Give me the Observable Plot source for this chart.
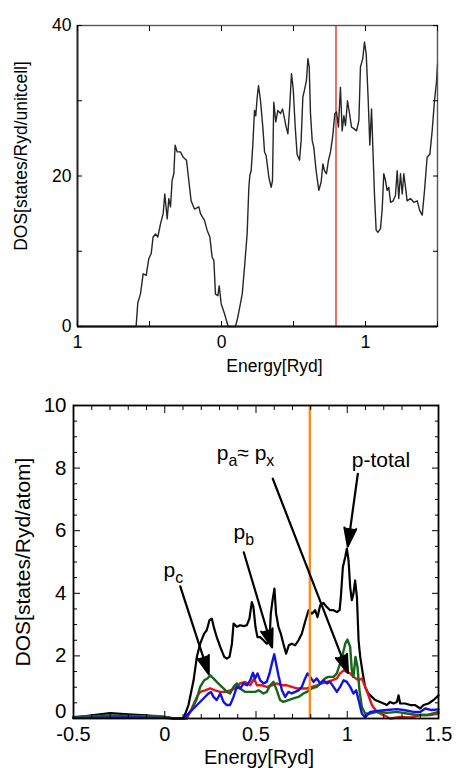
<!DOCTYPE html>
<html>
<head>
<meta charset="utf-8">
<script src="https://cdn.jsdelivr.net/npm/d3@7"></script>
<script src="https://cdn.jsdelivr.net/npm/@observablehq/plot@0.6"></script>
<style>
  html, body { margin: 0; padding: 0; background: #fff; }
  #top, #bottom { width: 457px; }
  svg { display: block; }
</style>
</head>
<body>
<div id="top"></div>
<div id="bottom"></div>
<script>
// ---------- data ----------
const fermiEnergy = 0.795;

// Top panel: total DOS [states/Ryd/unitcell]
const topEnergy = [-1, -0.593, -0.581, -0.563, -0.544, -0.523, -0.505, -0.488, -0.475, -0.458,
  -0.442, -0.424, -0.405, -0.394, -0.377, -0.366, -0.354, -0.343, -0.331, -0.322,
  -0.308, -0.285, -0.266, -0.243, -0.227, -0.211, -0.188, -0.157, -0.146, -0.118,
  -0.1, -0.081, -0.065, -0.053, -0.042, -0.025, -0.016, -0.002, 0.021, 0.046,
  0.097, 0.113, 0.144, 0.16, 0.178, 0.19, 0.197, 0.206, 0.218, 0.229,
  0.238, 0.248, 0.257, 0.271, 0.287, 0.299, 0.31, 0.329, 0.345, 0.354,
  0.363, 0.377, 0.391, 0.41, 0.424, 0.438, 0.447, 0.461, 0.475, 0.486,
  0.498, 0.512, 0.525, 0.542, 0.553, 0.565, 0.576, 0.59, 0.6, 0.609,
  0.618, 0.63, 0.641, 0.657, 0.676, 0.692, 0.704, 0.715, 0.729, 0.743,
  0.757, 0.773, 0.787, 0.799, 0.812, 0.826, 0.838, 0.85, 0.861, 0.875,
  0.889, 0.903, 0.919, 0.938, 0.954, 0.965, 0.981, 0.993, 1.005, 1.019,
  1.03, 1.042, 1.051, 1.063, 1.074, 1.086, 1.104, 1.116, 1.127, 1.139,
  1.15, 1.162, 1.174, 1.192, 1.208, 1.22, 1.231, 1.243, 1.255, 1.266,
  1.278, 1.289, 1.312, 1.336, 1.359, 1.377, 1.394, 1.41, 1.428, 1.447,
  1.463, 1.479, 1.493, 1.5];
const topDos = [0, 0, 3.2, 4.3, 7.0, 6.8, 9.0, 9.7, 11.9, 12.3,
  11.9, 13.6, 15.0, 17.6, 14.3, 17.0, 15.9, 19.4, 20.3, 24.1,
  23.2, 23.2, 22.5, 22.1, 19.4, 16.7, 15.6, 15.9, 15.0, 14.1,
  12.8, 11.9, 9.2, 8.8, 4.3, 4.1, 5.4, 3.0, 1.7, 0,
  0, 1.2, 4.3, 7.9, 12.3, 18.5, 20.1, 20.7, 24.3, 28.7,
  28.0, 30.5, 32.0, 30.0, 26.5, 23.2, 22.7, 19.8, 18.5, 19.4,
  29.8, 27.2, 28.7, 28.3, 28.9, 27.6, 26.7, 25.6, 29.6, 33.6,
  31.6, 26.5, 22.9, 22.1, 24.7, 30.5, 31.4, 32.7, 35.6, 34.5,
  28.3, 24.7, 23.8, 20.7, 18.1, 19.2, 21.6, 20.7, 20.3, 22.1,
  23.2, 25.4, 28.3, 28.5, 26.5, 31.8, 26.0, 28.0, 26.7, 30.0,
  28.3, 26.5, 26.3, 26.0, 27.4, 34.5, 35.6, 37.8, 36.2, 30.0,
  24.1, 28.9, 23.8, 17.2, 12.8, 12.5, 13.0, 15.6, 20.3, 19.4,
  18.1, 18.5, 16.5, 16.7, 17.4, 20.7, 17.0, 20.3, 17.6, 20.3,
  18.5, 16.7, 17.0, 16.5, 16.7, 15.4, 14.8, 18.1, 22.5, 22.9,
  26.0, 30.0, 32.5, 34.9];
const topXTicks = [-1, -0.5, 0, 0.5, 1, 1.5];
const topXLabels = [-1, 0, 1];
const topYTicks = [0, 10, 20, 30, 40];
const topYLabels = [0, 20, 40];
const topXTitle = "Energy[Ryd]";
const topYTitle = "DOS[states/Ryd/unitcell]";

// Bottom panel: partial p DOS [states/Ryd/atom], [energy, value]
const pTotal = [[-0.5,0.03],[-0.4,0.1],[-0.3,0.17],[-0.2,0.13],[-0.1,0.1],[0,0.05],[0.05,0],[0.103,0],[0.13,0.43],[0.158,1.22],[0.176,1.97],[0.194,2.39],[0.216,2.71],[0.23,2.82],[0.245,3.14],[0.258,3.19],[0.271,2.87],[0.285,2.6],[0.304,2.29],[0.326,1.97],[0.34,1.91],[0.355,1.97],[0.368,2.39],[0.377,3.03],[0.395,2.93],[0.413,2.98],[0.432,2.95],[0.45,2.98],[0.464,3.19],[0.477,3.72],[0.486,3.56],[0.497,2.93],[0.508,2.6],[0.523,2.6],[0.541,2.5],[0.559,2.39],[0.574,2.5],[0.581,3.35],[0.592,3.83],[0.601,4.15],[0.61,3.35],[0.623,2.93],[0.636,2.71],[0.65,2.39],[0.665,2.07],[0.68,2.34],[0.696,2.39],[0.715,2.34],[0.733,2.5],[0.751,2.71],[0.769,3.09],[0.788,3.46],[0.806,3.35],[0.824,3.46],[0.837,3.24],[0.852,3.62],[0.87,3.69],[0.888,3.56],[0.906,3.46],[0.925,3.46],[0.943,3.4],[0.958,3.46],[0.965,3.88],[0.976,4.84],[0.989,5.16],[0.998,5.43],[1.007,5.05],[1.016,4.2],[1.025,3.78],[1.034,3.99],[1.043,4.41],[1.053,3.88],[1.062,2.5],[1.071,1.97],[1.085,1.44],[1.098,1.01],[1.116,0.8],[1.135,0.69],[1.153,0.59],[1.18,0.53],[1.199,0.48],[1.217,0.43],[1.235,0.53],[1.253,0.48],[1.272,0.53],[1.281,0.74],[1.29,0.48],[1.317,0.48],[1.345,0.43],[1.372,0.43],[1.4,0.32],[1.418,0.43],[1.445,0.48],[1.473,0.59],[1.5,0.74]];
const pRed = [[-0.5,0.03],[-0.3,0.05],[-0.1,0.06],[-0.05,0.08],[0,0.04],[0.05,0],[0.121,0],[0.148,0.32],[0.176,0.69],[0.194,0.85],[0.221,0.9],[0.249,0.96],[0.276,0.9],[0.304,0.85],[0.331,0.85],[0.358,0.9],[0.386,0.96],[0.413,1.12],[0.441,1.17],[0.468,1.06],[0.49,1.28],[0.505,1.06],[0.532,1.06],[0.559,1.01],[0.587,1.06],[0.614,1.12],[0.642,1.06],[0.669,1.06],[0.696,1.01],[0.724,0.96],[0.751,0.96],[0.778,0.96],[0.806,1.01],[0.833,1.06],[0.861,1.12],[0.888,1.17],[0.916,1.22],[0.943,1.28],[0.961,1.44],[0.98,1.54],[0.998,1.49],[1.016,1.44],[1.034,1.33],[1.062,1.22],[1.08,1.28],[1.098,1.01],[1.116,0.74],[1.135,0.43],[1.162,0.21],[1.199,0.11],[1.235,0],[1.29,0.05],[1.345,0.03],[1.4,0.11],[1.455,0.11],[1.5,0.16]];
const pGreen = [[-0.5,0.05],[-0.3,0.1],[-0.1,0.07],[0,0.05],[0.05,0],[0.11,0],[0.148,0.27],[0.176,0.64],[0.194,1.01],[0.216,1.22],[0.234,1.28],[0.249,1.38],[0.267,1.28],[0.285,1.17],[0.304,1.06],[0.322,0.96],[0.34,0.85],[0.358,0.8],[0.377,1.01],[0.395,1.12],[0.413,0.96],[0.441,0.85],[0.468,0.85],[0.495,0.85],[0.514,0.9],[0.541,0.8],[0.559,0.85],[0.578,1.06],[0.596,1.17],[0.614,0.9],[0.632,0.59],[0.65,0.53],[0.678,0.59],[0.705,0.64],[0.733,0.69],[0.76,0.8],[0.778,0.85],[0.806,0.96],[0.833,1.01],[0.861,1.17],[0.879,1.28],[0.897,1.33],[0.925,1.33],[0.943,1.44],[0.961,1.76],[0.976,2.07],[0.989,2.39],[1.001,2.52],[1.016,2.29],[1.025,1.54],[1.034,1.33],[1.045,1.97],[1.056,1.65],[1.067,0.9],[1.08,0.37],[1.098,0.16],[1.126,0.16],[1.162,0.21],[1.217,0.18],[1.272,0.21],[1.326,0.16],[1.381,0.11],[1.436,0.11],[1.5,0.21]];
const pBlue = [[-0.5,0.02],[-0.2,0.03],[0,0.02],[0.05,0],[0.106,0],[0.13,0.16],[0.158,0.32],[0.185,0.48],[0.212,0.64],[0.24,0.8],[0.253,0.85],[0.267,0.69],[0.285,0.59],[0.304,0.8],[0.322,0.53],[0.34,0.43],[0.358,0.43],[0.377,0.69],[0.395,1.01],[0.413,0.96],[0.432,1.12],[0.45,1.06],[0.468,1.22],[0.483,1.46],[0.495,1.28],[0.508,1.44],[0.523,1.22],[0.541,1.12],[0.559,1.17],[0.574,1.44],[0.587,1.76],[0.6,2.05],[0.61,1.76],[0.623,1.38],[0.642,0.9],[0.66,0.69],[0.678,0.85],[0.696,0.8],[0.715,0.85],[0.733,0.9],[0.751,1.01],[0.769,1.28],[0.782,1.44],[0.797,1.33],[0.815,1.17],[0.833,1.28],[0.852,1.12],[0.87,1.22],[0.888,1.12],[0.906,1.17],[0.925,1.01],[0.943,0.85],[0.961,1.01],[0.98,1.22],[0.998,1.17],[1.016,1.01],[1.034,0.8],[1.049,0.9],[1.062,0.59],[1.08,0.16],[1.098,0.03],[1.126,0.21],[1.162,0.24],[1.217,0.27],[1.272,0.3],[1.308,0.27],[1.363,0.21],[1.4,0.21],[1.427,0.32],[1.463,0.27],[1.5,0.29]];
const botXTicks = d3.range(-5, 16).map(i => i / 10);
const botXLabels = [-0.5, 0, 0.5, 1, 1.5];
const botYTicks = d3.range(0, 21).map(i => i / 2);
const botYLabels = [2, 4, 6, 8, 10];
const botYZeroLabel = [0];
const botXTitle = "Energy[Ryd]";
const botYTitle = "DOS[states/Ryd/atom]";
const annLabels = ["p_c", "p_b", "p_a≈ p_x", "p-total"];
const annX = [-0.007, 0.377, 0.285, 1.025];
const annY = [4.74, 5.95, 8.48, 8.25];
const arrowFrom = [[0.085, 4.22], [0.433, 5.31], [0.592, 7.66], [1.058, 7.82]];
const arrowTo = [[0.241, 1.42], [0.588, 2.27], [1.004, 1.46], [1.003, 5.5]];

// ---------- helpers ----------
const FONT = "'Liberation Sans', Arial, Helvetica, sans-serif";
const isMajor = (v, step) => Math.abs(v / step - Math.round(v / step)) < 1e-6;

function subscriptify(svg) {
  svg.querySelectorAll("text").forEach(t => {
    const s = t.textContent;
    if (!s.includes("_")) return;
    t.textContent = "";
    const parts = s.split(/(_.)/).filter(p => p);
    let shifted = false;
    for (const part of parts) {
      const ts = document.createElementNS("http://www.w3.org/2000/svg", "tspan");
      if (part[0] === "_") {
        ts.textContent = part[1];
        ts.setAttribute("font-size", "76%");
        ts.setAttribute("dy", "6");
        shifted = true;
      } else {
        ts.textContent = part;
        if (shifted) { ts.setAttribute("dy", "-6"); shifted = false; }
      }
      t.appendChild(ts);
    }
  });
}
function fillArrowHeads(svg) {
  svg.querySelectorAll('g[aria-label="arrow"] path').forEach(p => {
    p.setAttribute("fill", "#000");
    p.setAttribute("stroke-linejoin", "miter");
  });
}

// ---------- top chart ----------
const topData = topEnergy.map((e, i) => ({e, v: topDos[i]}));

const topPlot = Plot.plot({
  width: 457, height: 380,
  marginLeft: 77, marginRight: 20, marginTop: 25, marginBottom: 54,
  style: {fontFamily: FONT, fontSize: "17.5px", color: "#000", background: "#fff", overflow: "visible"},
  x: {domain: [-1, 1.5]},
  y: {domain: [0, 40]},
  marks: [
    Plot.ruleX([fermiEnergy], {stroke: "#f46a6a", strokeWidth: 2}),
    Plot.line(topData, {x: "e", y: "v", stroke: "#262626", strokeWidth: 1.4}),
    Plot.frame({stroke: "#555", strokeWidth: 1.4}),
    Plot.ruleY([0], {stroke: "#111", strokeWidth: 2}),
    Plot.ruleX([-1], {stroke: "#222", strokeWidth: 1.8}),
    Plot.axisX({anchor: "bottom", ticks: topXTicks, tickSize: -5, fill: "none", label: null}),
    Plot.axisX({anchor: "top", ticks: topXTicks, tickSize: -5, fill: "none", label: null}),
    Plot.axisY({anchor: "left", ticks: topYTicks, tickSize: -5, fill: "none", label: null}),
    Plot.axisY({anchor: "right", ticks: topYTicks, tickSize: -5, fill: "none", label: null}),
    Plot.axisX({anchor: "bottom", ticks: topXLabels, tickSize: 0, tickPadding: 9, tickFormat: d => String(Math.abs(d)), label: null}),
    Plot.axisY({anchor: "left", ticks: topYLabels, tickSize: 0, tickPadding: 6, tickFormat: d => String(d), label: null}),
    Plot.text([topXTitle], {text: d => d, frameAnchor: "bottom", lineAnchor: "top", dx: 17, dy: 33}),
    Plot.text([topYTitle], {text: d => d, frameAnchor: "left", rotate: -90, textAnchor: "middle", dx: -56, dy: -20})
  ]
});
document.getElementById("top").appendChild(topPlot);

// ---------- bottom chart ----------
const toRows = arr => arr.map(([e, v]) => ({e, v}));
const arrows = arrowFrom.map((f, i) => ({x1: f[0], y1: f[1], x2: arrowTo[i][0], y2: arrowTo[i][1]}));
const anns = annLabels.map((t, i) => ({t, x: annX[i], y: annY[i]}));
const botMajorX = botXTicks.filter(d => isMajor(d, 0.5));
const botMinorX = botXTicks.filter(d => !isMajor(d, 0.5));
const botMajorY = botYTicks.filter(d => isMajor(d, 2));
const botMinorY = botYTicks.filter(d => !isMajor(d, 2));

const botPlot = Plot.plot({
  width: 457, height: 388,
  marginLeft: 73, marginRight: 19, marginTop: 25, marginBottom: 50,
  style: {fontFamily: FONT, fontSize: "21px", color: "#000", background: "#fff", overflow: "visible"},
  x: {domain: [-0.5, 1.5]},
  y: {domain: [0, 10]},
  marks: [
    Plot.line(toRows(pTotal), {x: "e", y: "v", stroke: "#000", strokeWidth: 2.2}),
    Plot.line(toRows(pRed), {x: "e", y: "v", stroke: "#e3141b", strokeWidth: 2.4}),
    Plot.line(toRows(pGreen), {x: "e", y: "v", stroke: "#16671a", strokeWidth: 2.4}),
    Plot.line(toRows(pBlue), {x: "e", y: "v", stroke: "#1414e0", strokeWidth: 2.4}),
    Plot.ruleX([fermiEnergy], {stroke: "#ff8a1c", strokeWidth: 2.4}),
    Plot.arrow(arrows, {x1: "x1", y1: "y1", x2: "x2", y2: "y2", stroke: "#000", strokeWidth: 2.2, headLength: 13, headAngle: 36}),
    Plot.text(anns, {x: "x", y: "y", text: "t", textAnchor: "start", fontSize: 21}),
    Plot.frame({stroke: "#000", strokeWidth: 1.8}),
    Plot.axisX({anchor: "bottom", ticks: botMajorX, tickSize: -7, fill: "none", label: null}),
    Plot.axisX({anchor: "bottom", ticks: botMinorX, tickSize: -4, fill: "none", label: null}),
    Plot.axisX({anchor: "top", ticks: botMajorX, tickSize: -7, fill: "none", label: null}),
    Plot.axisX({anchor: "top", ticks: botMinorX, tickSize: -4, fill: "none", label: null}),
    Plot.axisY({anchor: "left", ticks: botMajorY, tickSize: -7, fill: "none", label: null}),
    Plot.axisY({anchor: "left", ticks: botMinorY, tickSize: -4, fill: "none", label: null}),
    Plot.axisY({anchor: "right", ticks: botMajorY, tickSize: -7, fill: "none", label: null}),
    Plot.axisY({anchor: "right", ticks: botMinorY, tickSize: -4, fill: "none", label: null}),
    Plot.axisX({anchor: "bottom", ticks: botXLabels, tickSize: 0, tickPadding: 8, fontSize: 20, tickFormat: d => String(d), label: null}),
    Plot.axisY({anchor: "left", ticks: botYLabels, tickSize: 0, tickPadding: 7, fontSize: 20.5, tickFormat: d => String(d), label: null}),
    Plot.axisY({anchor: "left", ticks: botYZeroLabel, tickSize: 0, tickPadding: 7, fontSize: 20.5, dy: -7, tickFormat: d => String(d), label: null}),
    Plot.text([botXTitle], {text: d => d, frameAnchor: "bottom", lineAnchor: "top", fontSize: 20, dx: 3, dy: 31}),
    Plot.text([botYTitle], {text: d => d, frameAnchor: "left", rotate: -90, textAnchor: "middle", dx: -50, dy: 0})
  ]
});
subscriptify(botPlot);
fillArrowHeads(botPlot);
document.getElementById("bottom").appendChild(botPlot);
</script>
</body>
</html>
